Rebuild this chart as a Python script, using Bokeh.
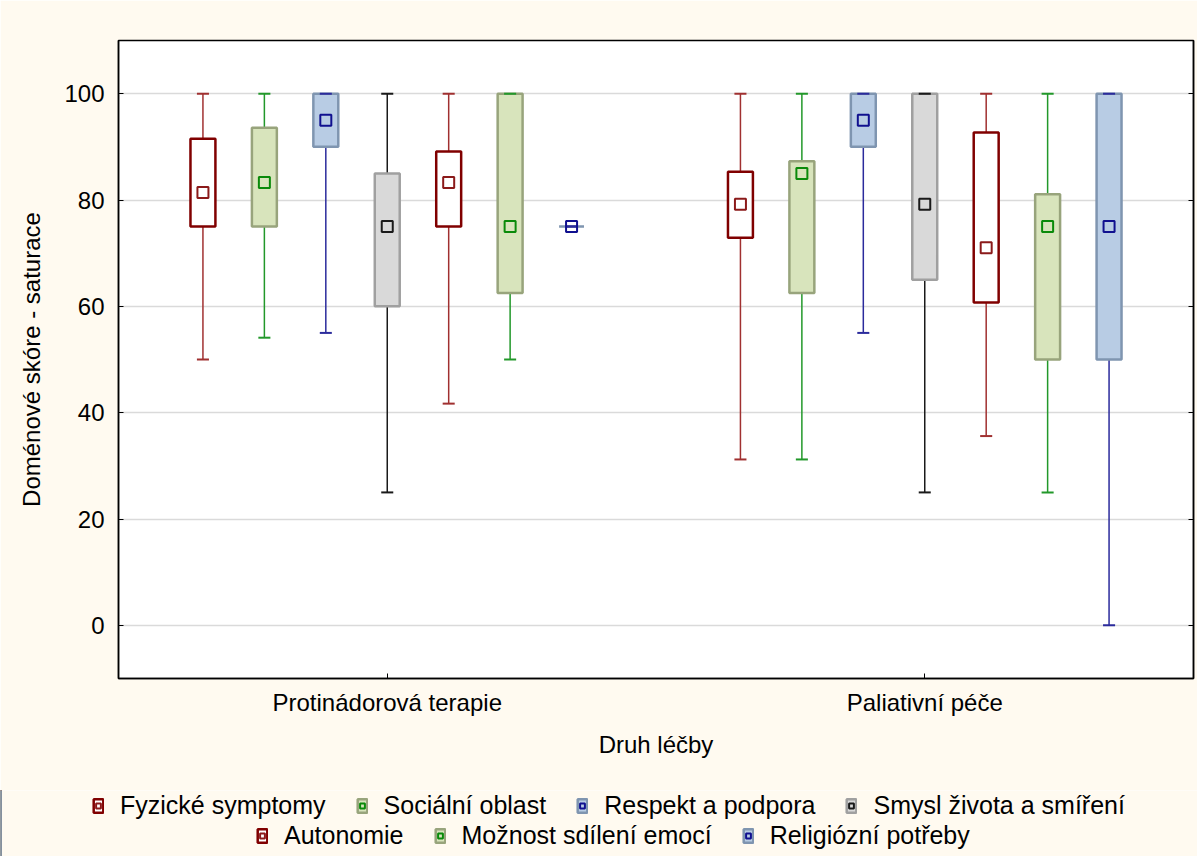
from bokeh.plotting import figure
from bokeh.models import (FactorRange, Range1d, LinearAxis, SingleIntervalTicker,
                          Legend, LegendItem, ColumnDataSource)
from bokeh.transform import dodge
from bokeh.embed import file_html
from bokeh.resources import INLINE

# ---------------- data ----------------
groups = ["Protinádorová terapie", "Paliativní péče"]
series = ["Fyzické symptomy", "Sociální oblast", "Respekt a podpora",
          "Smysl života a smíření", "Autonomie", "Možnost sdílení emocí",
          "Religiózní potřeby"]

# Protinádorová terapie
wmin_pt = [50.0, 54.1, 55.0, 25.0, 41.7, 50.0, 75.0]
q1_pt = [75.0, 75.0, 90.0, 60.0, 75.0, 62.5, 75.0]
q3_pt = [91.5, 93.6, 100.0, 85.0, 89.1, 100.0, 75.0]
wmax_pt = [100.0, 100.0, 100.0, 100.0, 100.0, 100.0, 75.0]
mean_pt = [81.4, 83.3, 95.0, 75.0, 83.3, 75.0, 75.0]

# Paliativní péče
wmin_pp = [31.2, 31.2, 55.0, 25.0, 35.6, 25.0, 0.0]
q1_pp = [72.9, 62.5, 90.0, 65.0, 60.7, 50.0, 50.0]
q3_pp = [85.3, 87.3, 100.0, 100.0, 92.7, 81.1, 100.0]
wmax_pp = [100.0, 100.0, 100.0, 100.0, 100.0, 100.0, 100.0]
mean_pp = [79.2, 85.0, 95.0, 79.2, 71.0, 75.0, 75.0]

y_ticks = [0, 20, 40, 60, 80, 100]

# ---------------- styles ----------------
box_fill = ["#FFFFFF", "#D8E4BC", "#B8CCE4", "#D9D9D9", "#FFFFFF", "#D8E4BC", "#B8CCE4"]
box_line = ["#800000", "#98A47C", "#7F95B0", "#A0A0A0", "#800000", "#98A47C", "#7F95B0"]
wh_color = ["#A03030", "#22982A", "#2B2B9C", "#1A1A1A", "#A03030", "#22982A", "#2B2B9C"]
mean_col = ["#8B1A1A", "#0A8A0A", "#10108F", "#1A1A1A", "#8B1A1A", "#0A8A0A", "#10108F"]

FONT = "Liberation Sans"
BG = "#FFFAF0"
W = 1197
H_MAIN = 790
H_LEG = 66

p = figure(width=W, height=H_MAIN, x_range=FactorRange(*groups),
           y_range=Range1d(-10, 110), output_backend="svg", toolbar_location=None,
           min_border_left=118, min_border_top=40, min_border_right=1,
           min_border_bottom=112)
p.background_fill_color = "white"
p.border_fill_color = BG
p.outline_line_color = "black"
p.outline_line_width = 1.5

p.xgrid.grid_line_color = None
p.ygrid.grid_line_color = "#DADADA"
p.ygrid.grid_line_width = 1.5
p.yaxis.ticker = SingleIntervalTicker(interval=20)
p.ygrid.ticker = SingleIntervalTicker(interval=20)

for ax in (p.xaxis[0], p.yaxis[0]):
    ax.axis_line_color = "black"
    ax.axis_line_width = 1.5
    ax.major_tick_in = 5
    ax.major_tick_out = 0
    ax.minor_tick_line_color = None
    ax.major_tick_line_color = "black"
    ax.major_label_text_font = FONT
    ax.major_label_text_font_size = "24px"
    ax.major_label_text_color = "black"
    ax.axis_label_text_font = FONT
    ax.axis_label_text_font_size = "24px"
    ax.axis_label_text_font_style = "normal"
    ax.axis_label_text_color = "black"

p.yaxis.axis_label = "Doménové skóre - saturace"
p.yaxis.major_label_standoff = 10
p.yaxis.axis_label_standoff = 16
p.xaxis.axis_label = "Druh léčby"
p.xaxis.major_label_standoff = 10
p.xaxis.axis_label_standoff = 12

ry = LinearAxis(ticker=SingleIntervalTicker(interval=20))
ry.axis_line_color = "black"
ry.axis_line_width = 1.5
ry.major_tick_in = 5
ry.major_tick_out = 0
ry.minor_tick_line_color = None
ry.major_label_overrides = {t: "" for t in y_ticks}
ry.major_label_standoff = 0
p.add_layout(ry, "right")

# ---------------- glyphs ----------------
n = len(series)
spacing = 0.1143
box_w = 0.0464
cap_half = 0.0112

for i in range(n):
    src = ColumnDataSource(dict(
        group=groups,
        lo=[wmin_pt[i], wmin_pp[i]],
        q1=[q1_pt[i], q1_pp[i]],
        q3=[q3_pt[i], q3_pp[i]],
        hi=[wmax_pt[i], wmax_pp[i]],
        mean=[mean_pt[i], mean_pp[i]],
    ))
    off = (i - (n - 1) / 2) * spacing
    xc = dodge("group", off, range=p.x_range)
    xl = dodge("group", off - cap_half, range=p.x_range)
    xr = dodge("group", off + cap_half, range=p.x_range)
    p.segment(x0=xc, y0="lo", x1=xc, y1="hi", source=src,
              line_color=wh_color[i], line_width=1.5)
    p.vbar(x=xc, width=box_w, bottom="q1", top="q3", source=src,
           fill_color=box_fill[i], line_color=box_line[i], line_width=2.5)
    p.segment(x0=xl, y0="hi", x1=xr, y1="hi", source=src,
              line_color=wh_color[i], line_width=2)
    p.segment(x0=xl, y0="lo", x1=xr, y1="lo", source=src,
              line_color=wh_color[i], line_width=2)
    p.scatter(x=xc, y="mean", source=src, marker="square", size=11,
              fill_color=None, line_color=mean_col[i], line_width=2)

# ---------------- legend (separate strip below the chart) ----------------
pl = figure(width=W, height=H_LEG, x_range=Range1d(0, 1), y_range=Range1d(0, 1),
            output_backend="svg", toolbar_location=None, min_border=0)
pl.axis.visible = False
pl.grid.grid_line_color = None
pl.outline_line_color = None
pl.background_fill_color = BG
pl.border_fill_color = BG

items = []
for i in range(n):
    # legend proxies: placed outside the visible x range of the strip
    proxy = ColumnDataSource(dict(x=[-1.0], y=[mean_pt[i]]))
    b = pl.vbar(x="x", top="y", width=0.1, source=proxy,
                fill_color=box_fill[i], line_color=box_line[i], line_width=2.5)
    m = pl.scatter(x="x", y="y", source=proxy, marker="square", size=9,
                   fill_color=None, line_color=mean_col[i], line_width=2)
    items.append(LegendItem(label=series[i], renderers=[b, m]))


def make_legend(its, x, y):
    lg = Legend(items=its, orientation="horizontal", location=(x, y))
    lg.label_text_font = FONT
    lg.label_text_font_size = "25px"
    lg.label_text_color = "black"
    lg.glyph_width = 12
    lg.glyph_height = 17
    lg.label_standoff = 16
    lg.spacing = 30
    lg.padding = 0
    lg.margin = 0
    lg.border_line_color = None
    lg.background_fill_alpha = 0
    lg.label_height = 20
    return lg


pl.add_layout(make_legend(items[:4], 92, 36))
pl.add_layout(make_legend(items[4:], 256, 6))

open("out.html", "w").write(file_html([p, pl], INLINE))
